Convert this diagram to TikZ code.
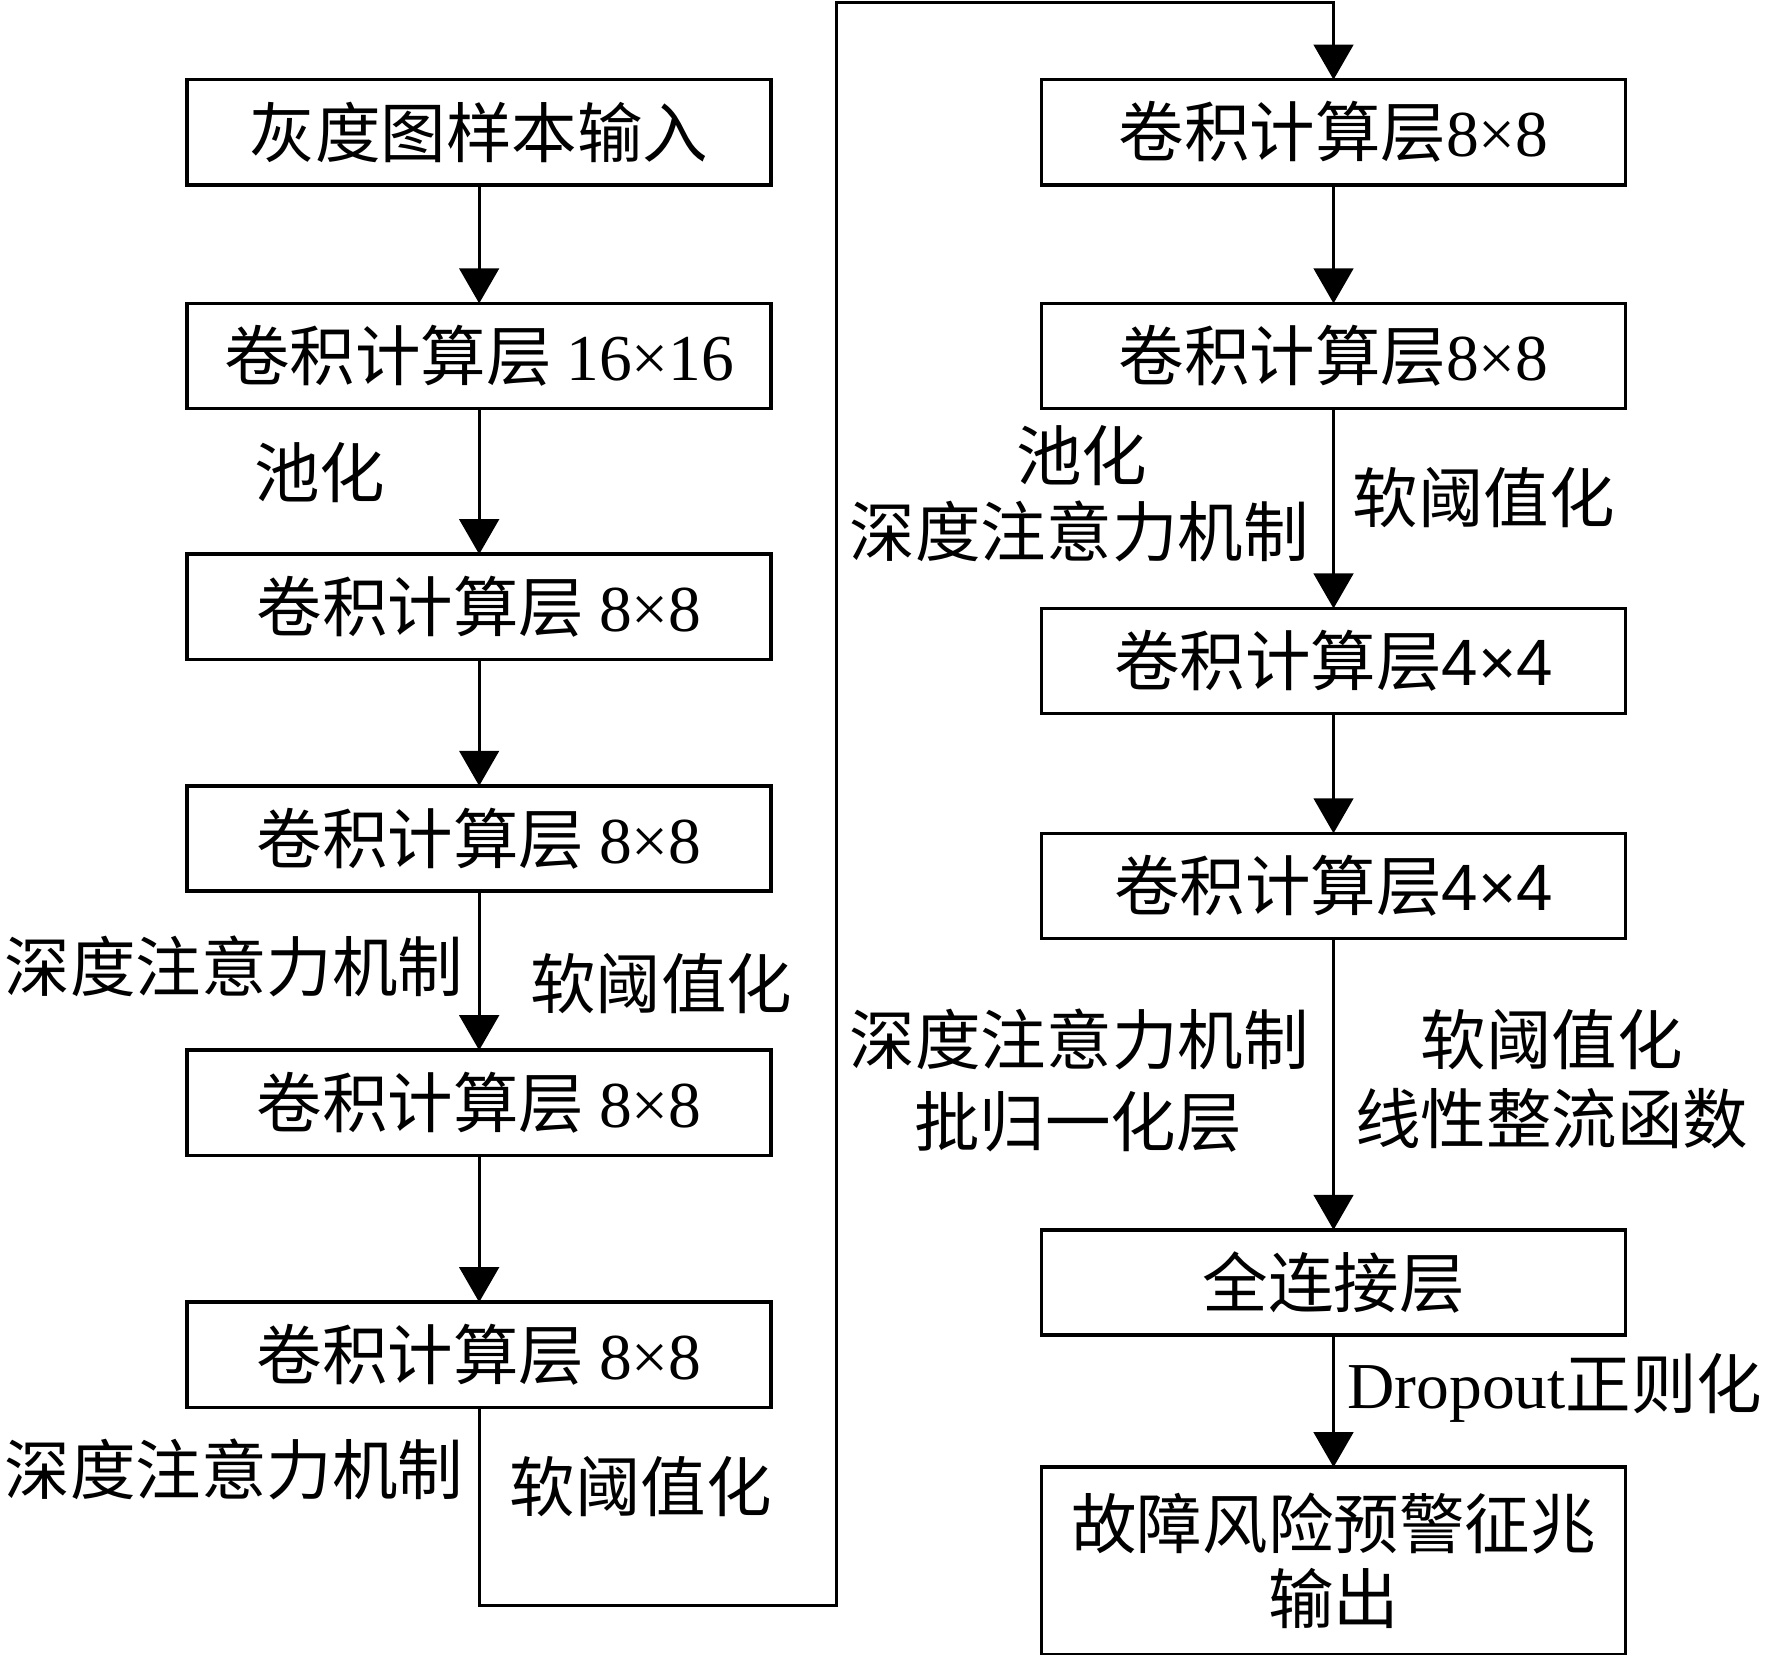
\documentclass[tikz,border=0pt]{standalone}
\usepackage{fontspec}
\setmainfont{Noto Sans CJK SC}
\newfontfamily\tnr{Liberation Serif}
\newfontfamily\arial{Liberation Sans}
\usetikzlibrary{arrows.meta}
\usetikzlibrary{positioning}
\tikzset{layer/.style={rectangle,draw=black,line width=1.8pt,inner sep=0pt,outer sep=0pt,
minimum width=10.34cm, minimum height=1.86cm, font=\fontsize{33}{38}\selectfont},
tall/.style={layer,minimum height=3.32cm,align=center},
note/.style={rectangle, inner sep=0pt, font=\fontsize{33}{38}\selectfont},
>={Triangle[length=0.62cm,width=0.70cm]}}

\begin{document}
\begin{tikzpicture}[x=0.02cm,y=-0.02cm,line width=1.5pt]
  \useasboundingbox (0,0) rectangle (1568,1464);
  % left column
  \node (input) [layer] at (424,117) {灰度图样本输入};
  \node (c16) [layer,below=2.10cm of input] {卷积计算层 {\tnr 16×16}};
  \node (c8a) [layer,below=2.58cm of c16] {卷积计算层 {\tnr 8×8}};
  \node (c8b) [layer,below=2.24cm of c8a] {卷积计算层 {\tnr 8×8}};
  \node (c8c) [layer,below=2.82cm of c8b] {卷积计算层 {\tnr 8×8}};
  \node (c8d) [layer,below=2.60cm of c8c] {卷积计算层 {\tnr 8×8}};
  % right column
  \node (r8a) [layer] at (1180,117) {卷积计算层{\tnr 8×8}};
  \node (r8b) [layer,below=2.10cm of r8a] {卷积计算层{\tnr 8×8}};
  \node (r4a) [layer,below=3.54cm of r8b] {卷积计算层{\arial 4×4}};
  \node (r4b) [layer,below=2.12cm of r4a] {卷积计算层{\arial 4×4}};
  \node (fc) [layer,below=5.16cm of r4b] {全连接层};
  \node (out) [tall,below=2.34cm of fc] {故障风险预警征兆\\输出};

  \coordinate (loopb) at (740,1421);
  \coordinate (loopt) at (740,2);

  \draw [->] (input) -- (c16);
  \draw [->] (c16) -- (c8a);
  \draw [->] (c8a) -- (c8b);
  \draw [->] (c8b) -- (c8c);
  \draw [->] (c8c) -- (c8d);
  \draw [->] (c8d) |- (loopb) -- (loopt) -| (r8a);
  \draw [->] (r8a) -- (r8b);
  \draw [->] (r8b) -- (r4a);
  \draw [->] (r4a) -- (r4b);
  \draw [->] (r4b) -- (fc);
  \draw [->] (fc) -- (out);

  % labels on the arrows
  \node (pool1) [note] at (283,418) {池化};
  \node (att1) [note] at (207,855) {深度注意力机制};
  \node (soft1) [note] at (585,870) {软阈值化};
  \node (att2) [note] at (207,1300) {深度注意力机制};
  \node (soft2) [note] at (567,1315) {软阈值化};
  \node (pool2) [note] at (957,403) {池化};
  \node (att3) [note] at (955,470) {深度注意力机制};
  \node (soft3) [note] at (1313,440) {软阈值化};
  \node (att4) [note] at (955,920) {深度注意力机制};
  \node (bn) [note] at (954,993) {批归一化层};
  \node (soft4) [note] at (1373,920) {软阈值化};
  \node (relu) [note] at (1373,990) {线性整流函数};
  \node (drop) [note] at (1376,1228) {{\tnr Dropout}正则化};
\end{tikzpicture}
\end{document}
